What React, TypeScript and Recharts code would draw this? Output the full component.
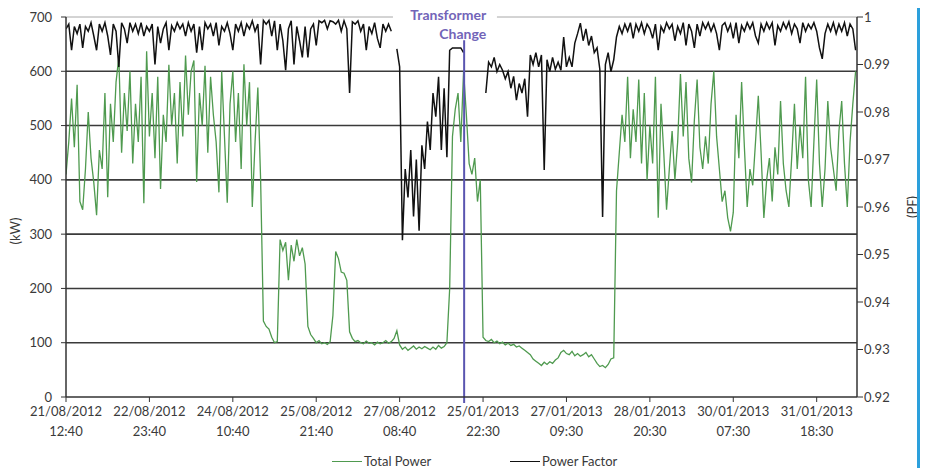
import React from 'react';
import { LineChart, Line, XAxis, YAxis, ReferenceLine, Legend } from 'recharts';

// Total power (kW), one reading per step along the time axis
const totalPower: number[] = [
  410, 470, 550, 460, 575, 360, 345, 420, 525, 440,
  395, 335, 455, 420, 560, 368, 540, 470, 580, 626,
  450, 560, 490, 600, 430, 540, 470, 590, 357, 637,
  480, 560, 440, 590, 383, 520, 470, 612, 500, 560,
  430, 580, 480, 629, 520, 600, 620, 396, 560, 500,
  610, 450, 590, 520, 470, 377, 600, 480, 358, 540,
  600, 470, 560, 420, 613, 500, 580, 350, 470, 570,
  400, 140, 130, 125, 110, 100, 102, 290, 270, 285,
  215, 280, 250, 290, 260, 275, 245, 130, 115, 108,
  100, 104, 98, 100, 97, 102, 150, 268, 255, 230,
  228, 215, 120, 108, 102, 104, 100, 98, 103, 99,
  100, 96, 101, 98, 100, 104, 99, 102, 108, 122,
  96, 88, 92, 86, 90, 94, 88, 92, 89, 93,
  90, 87, 92, 88, 95, 90, 93, 100, 200, 480,
  530, 560, 470, 600, 520, 430, 410, 440, 360, 400,
  110, 104, 102, 106, 100, 103, 98, 101, 96, 99,
  95, 97, 92, 94, 90, 86, 82, 78, 70, 66,
  62, 58, 64, 60, 65, 62, 68, 72, 82, 86,
  80, 78, 84, 76, 80, 75, 78, 82, 74, 78,
  70, 62, 56, 58, 54, 60, 70, 72, 380, 450,
  520, 470, 590, 440, 530, 470, 585, 430, 560, 400,
  500, 430, 590, 330, 540, 450, 345, 420, 490, 400,
  470, 595, 480, 580, 440, 395, 510, 585, 460, 420,
  480, 430, 540, 600, 480, 420, 360, 380, 330, 305,
  340, 520, 440, 580, 460, 350, 420, 390, 470, 555,
  450, 330, 400, 440, 360, 460, 410, 545, 430, 380,
  350, 440, 540, 420, 500, 440, 590, 400, 350, 470,
  585, 430, 350, 420, 545, 460, 420, 380, 490, 545,
  430, 350, 470, 540, 600,
];

// Power factor (PF); null = no reading
const powerFactor: (number | null)[] = [
  0.9975, 0.9985, 0.993, 0.998, 0.9965, 0.9985, 0.9935, 0.998, 0.997, 0.9988,
  0.996, 0.993, 0.9985, 0.997, 0.9988, 0.996, 0.992, 0.9985, 0.997, 0.9895,
  0.9988, 0.9975, 0.9945, 0.9988, 0.997, 0.9985, 0.9965, 0.9988, 0.996, 0.998,
  0.997, 0.9985, 0.99, 0.998, 0.9945, 0.9975, 0.9988, 0.993, 0.9982, 0.997,
  0.9988, 0.9975, 0.9985, 0.996, 0.9988, 0.997, 0.9985, 0.9925, 0.998, 0.993,
  0.9988, 0.9975, 0.9985, 0.996, 0.9988, 0.994, 0.998, 0.997, 0.9988, 0.9965,
  0.993, 0.9985, 0.997, 0.9988, 0.996, 0.9985, 0.9975, 0.9992, 0.997, 0.9985,
  0.99, 0.9993, 0.9985, 0.9993, 0.996, 0.9992, 0.993, 0.9985, 0.995, 0.9888,
  0.9975, 0.9992, 0.99, 0.998, 0.995, 0.9915, 0.998, 0.9915, 0.9975, 0.9985,
  0.994, 0.9992, 0.9988, 0.9993, 0.9975, 0.9992, 0.999, 0.9985, 0.9993, 0.997,
  0.9992, 0.9975, 0.984, 0.999, 0.9985, 0.9992, 0.997, 0.9985, 0.993, 0.998,
  0.9965, 0.9988, 0.9955, 0.9935, 0.9985, 0.997, 0.9985, 0.997, null, 0.9933,
  0.9895, 0.953, 0.968, 0.962, 0.972, 0.958, 0.97, 0.955, 0.973, 0.968,
  0.978, 0.972, 0.984, 0.979, 0.9874, 0.972, 0.985, 0.9705, 0.993, 0.9935,
  0.9935, 0.9935, 0.9935, 0.9925, null, null, null, null, null, null,
  null, 0.984, 0.9905, 0.9895, 0.9915, 0.9885, 0.99, 0.9888, 0.987, 0.9885,
  0.985, 0.9875, 0.9825, 0.986, 0.984, 0.987, 0.979, 0.992, 0.99, 0.9925,
  0.9895, 0.992, 0.9678, 0.991, 0.9885, 0.9915, 0.989, 0.9905, 0.9888, 0.9958,
  0.9895, 0.9915, 0.9895, 0.9945, 0.9965, 0.9987, 0.995, 0.9975, 0.994, 0.996,
  0.9925, 0.9935, 0.989, 0.9579, 0.99, 0.9925, 0.9885, 0.991, 0.9958, 0.998,
  0.9965, 0.9985, 0.997, 0.9988, 0.9955, 0.9985, 0.997, 0.9988, 0.9965, 0.9985,
  0.9975, 0.9955, 0.9985, 0.993, 0.998, 0.9968, 0.9988, 0.9975, 0.9985, 0.995,
  0.998, 0.9965, 0.9988, 0.994, 0.9985, 0.997, 0.9935, 0.9985, 0.996, 0.9988,
  0.9975, 0.9988, 0.997, 0.9985, 0.9965, 0.993, 0.9982, 0.9988, 0.997, 0.9985,
  0.9955, 0.9988, 0.9945, 0.9982, 0.997, 0.9988, 0.9975, 0.9988, 0.996, 0.9945,
  0.9985, 0.997, 0.9988, 0.9975, 0.9988, 0.994, 0.9982, 0.997, 0.9988, 0.9975,
  0.999, 0.9965, 0.9985, 0.9975, 0.9945, 0.9988, 0.997, 0.9985, 0.9975, 0.9988,
  0.997, 0.9935, 0.9912, 0.9965, 0.9985, 0.997, 0.9988, 0.9965, 0.9985, 0.997,
  0.9988, 0.996, 0.9985, 0.9975, 0.993,
];

// Category axis labels (every 30 steps)
const tickDates = ['21/08/2012', '22/08/2012', '24/08/2012', '25/08/2012', '27/08/2012', '25/01/2013', '27/01/2013', '28/01/2013', '30/01/2013', '31/01/2013'];
const tickTimes = ['12:40', '23:40', '10:40', '21:40', '08:40', '22:30', '09:30', '20:30', '07:30', '18:30'];
const STEPS_PER_TICK = 30;
const X_END = 284.5;

const kwTicks = [0, 100, 200, 300, 400, 500, 600, 700];
const pfTicks = [0.92, 0.93, 0.94, 0.95, 0.96, 0.97, 0.98, 0.99, 1];
const gridValues = [100, 200, 300, 400, 500, 600];

const seriesNames = ['Total Power', 'Power Factor'];

// transformer change position on the time axis, and the label gap in the top border line
const transformerAt = 143.2;
const labelGapStart = 117.6;
const labelGapEnd = 155;

const data = totalPower.map((v, i) => ({ t: i, power: v, pf: powerFactor[i] }));
const xTicks = tickDates.map((_, i) => i * STEPS_PER_TICK);

const FONT = 'Lato, "Open Sans", sans-serif';
const TXT = '#3a3a3a';

const XTick = (props: any) => {
  const { x, y, payload } = props;
  const idx = Math.round(payload.value / STEPS_PER_TICK);
  return (
    <text x={x} y={y} textAnchor="middle" fill={TXT} fontSize={13} fontFamily={FONT}>
      <tspan x={x} dy={12}>{tickDates[idx]}</tspan>
      <tspan x={x} dy={20}>{tickTimes[idx]}</tspan>
    </text>
  );
};

const TransformerLabel = (props: any) => {
  const vb = props.viewBox || {};
  const lx = vb.x ?? 0;
  return (
    <g>
      <text x={lx + 22} y={20} textAnchor="end" fill="#7264b8" fontSize={14} fontWeight={700} fontFamily={FONT}>
        Transformer
      </text>
      <text x={lx + 22} y={39} textAnchor="end" fill="#7264b8" fontSize={14} fontWeight={700} fontFamily={FONT}>
        Change
      </text>
    </g>
  );
};

const LegendContent = (props: any) => {
  const items: any[] = props.payload || [];
  const lefts = [324, 502];
  const ordered = seriesNames.map((n) => items.find((it) => it.value === n)).filter(Boolean);
  return (
    <div style={{ position: 'relative', height: 18, fontFamily: FONT, fontSize: 13, color: TXT }}>
      {ordered.map((it: any, i: number) => (
        <div key={i} style={{ position: 'absolute', left: lefts[i], top: 0, display: 'flex', alignItems: 'center', height: 18 }}>
          <span style={{ display: 'inline-block', width: 30, height: 0, borderTop: `1.5px solid ${it.color}`, marginRight: 2 }} />
          <span>{it.value}</span>
        </div>
      ))}
    </div>
  );
};

export default function App() {
  return (
    <div style={{ position: 'relative', width: 922, height: 468, marginTop: -8 }}>
      <LineChart width={920} height={468} data={data} margin={{ top: 17, right: 26, bottom: 31, left: 18 }}>
        <XAxis
          dataKey="t"
          type="number"
          domain={[0, X_END]}
          ticks={xTicks}
          interval={0}
          height={40}
          tick={<XTick />}
          tickSize={5}
          tickLine={{ stroke: '#333' }}
          axisLine={{ stroke: '#333', strokeWidth: 1.5 }}
          allowDataOverflow
        />
        <YAxis
          yAxisId="kw"
          orientation="left"
          domain={[0, 700]}
          ticks={kwTicks}
          interval={0}
          width={40}
          tickSize={5}
          tickMargin={9}
          tick={{ fill: TXT, fontSize: 13, fontFamily: FONT }}
          tickLine={{ stroke: '#333' }}
          axisLine={{ stroke: '#333', strokeWidth: 1.5 }}
          label={{ value: '(kW)', angle: -90, position: 'center', dx: -31, dy: 24, fill: TXT, fontSize: 13, fontFamily: FONT }}
        />
        <YAxis
          yAxisId="pf"
          orientation="right"
          domain={[0.92, 1]}
          ticks={pfTicks}
          interval={0}
          width={45}
          tickSize={6}
          tickMargin={1}
          tickFormatter={(v: number) => String(Math.round(v * 100) / 100)}
          tick={{ fill: TXT, fontSize: 13, fontFamily: FONT }}
          tickLine={{ stroke: '#333' }}
          axisLine={{ stroke: '#333', strokeWidth: 1.5 }}
          label={{ value: '(PF)', angle: -90, position: 'center', dx: 33, fill: TXT, fontSize: 13, fontFamily: FONT }}
        />
        {gridValues.map((g) => (
          <ReferenceLine key={g} yAxisId="kw" y={g} stroke="#3a3a3a" strokeWidth={1.6} />
        ))}
        <ReferenceLine yAxisId="kw" segment={[{ x: 0, y: 700 }, { x: labelGapStart, y: 700 }]} stroke="#a8a8a8" strokeWidth={1} />
        <ReferenceLine yAxisId="kw" segment={[{ x: labelGapEnd, y: 700 }, { x: X_END, y: 700 }]} stroke="#a8a8a8" strokeWidth={1} />
        <Line
          yAxisId="kw"
          dataKey="power"
          name={seriesNames[0]}
          stroke="#4f9a4f"
          strokeWidth={1.3}
          dot={false}
          legendType="plainline"
          isAnimationActive={false}
        />
        <Line
          yAxisId="pf"
          dataKey="pf"
          name={seriesNames[1]}
          stroke="#111111"
          strokeWidth={1.5}
          dot={false}
          legendType="plainline"
          isAnimationActive={false}
        />
        <ReferenceLine
          yAxisId="kw"
          segment={[{ x: transformerAt, y: -11 }, { x: transformerAt, y: 657 }]}
          stroke="#5a55b0"
          strokeWidth={2}
          ifOverflow="visible"
          label={(p: any) => <TransformerLabel {...p} />}
        />
        <Legend
          verticalAlign="middle"
          align="center"
          layout="horizontal"
          wrapperStyle={{ position: 'absolute', left: 0, top: 452, width: 920 }}
          content={<LegendContent />}
        />
      </LineChart>
      <div style={{ position: 'absolute', left: 909, top: 0, width: 3, height: 468, background: '#2ca0dc' }} />
    </div>
  );
}
